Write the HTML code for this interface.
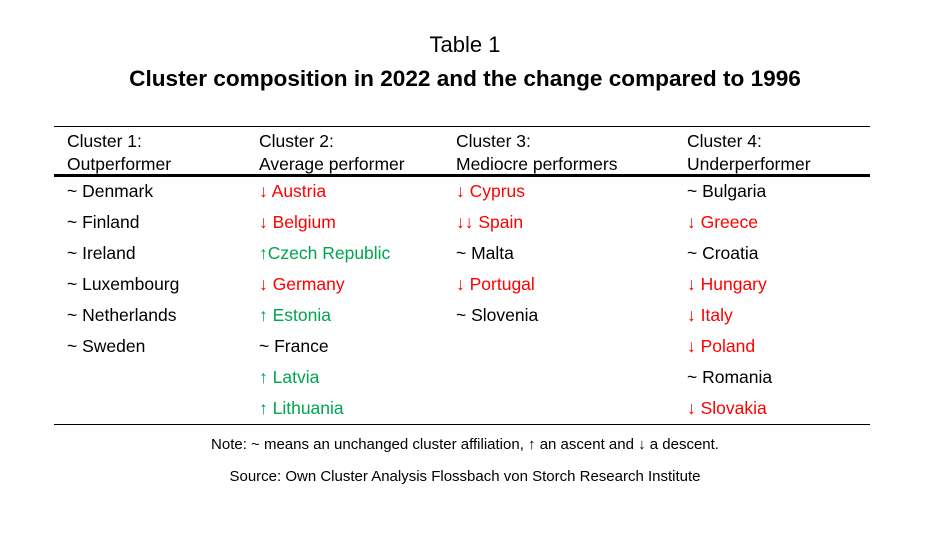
<!DOCTYPE html>
<html><head><meta charset="utf-8"><style>
body{margin:0;width:930px;height:534px;background:#fff;font-family:"Liberation Sans",sans-serif;color:#000;position:relative;overflow:hidden}
.t{position:absolute;white-space:nowrap;line-height:1;}
.c{left:0;width:930px;text-align:center}
.r{color:#f00}.g{color:#00a550}
.line{position:absolute;left:54px;width:816px;background:#000}
.cell{position:absolute;font-size:17.5px;line-height:31px;white-space:nowrap}
</style></head><body>
<div class="t c" style="top:34px;font-size:22px">Table 1</div>
<div class="t c" style="top:68px;font-size:22.6px;font-weight:bold">Cluster composition in 2022 and the change compared to 1996</div>
<div class="line" style="top:126px;height:1px"></div>
<div class="line" style="top:174px;height:3px"></div>
<div class="line" style="top:424px;height:1px"></div>
<div class="cell" style="left:67px;top:130px;line-height:23px">Cluster 1:<br>Outperformer</div>
<div class="cell" style="left:259px;top:130px;line-height:23px">Cluster 2:<br>Average performer</div>
<div class="cell" style="left:456px;top:130px;line-height:23px">Cluster 3:<br>Mediocre performers</div>
<div class="cell" style="left:687px;top:130px;line-height:23px">Cluster 4:<br>Underperformer</div>
<div class="cell" style="left:67px;top:176px">~ Denmark<br>~ Finland<br>~ Ireland<br>~ Luxembourg<br>~ Netherlands<br>~ Sweden</div>
<div class="cell" style="left:259px;top:176px"><span class="r">↓ Austria</span><br><span class="r">↓ Belgium</span><br><span class="g">↑Czech Republic</span><br><span class="r">↓ Germany</span><br><span class="g">↑ Estonia</span><br>~ France<br><span class="g">↑ Latvia</span><br><span class="g">↑ Lithuania</span></div>
<div class="cell" style="left:456px;top:176px"><span class="r">↓ Cyprus</span><br><span class="r">↓↓ Spain</span><br>~ Malta<br><span class="r">↓ Portugal</span><br>~ Slovenia</div>
<div class="cell" style="left:687px;top:176px">~ Bulgaria<br><span class="r">↓ Greece</span><br>~ Croatia<br><span class="r">↓ Hungary</span><br><span class="r">↓ Italy</span><br><span class="r">↓ Poland</span><br>~ Romania<br><span class="r">↓ Slovakia</span></div>
<div class="t c" style="top:437px;font-size:15px">Note: ~ means an unchanged cluster affiliation, ↑ an ascent and ↓ a descent.</div>
<div class="t c" style="top:469px;font-size:15px">Source: Own Cluster Analysis Flossbach von Storch Research Institute</div>
</body></html>
